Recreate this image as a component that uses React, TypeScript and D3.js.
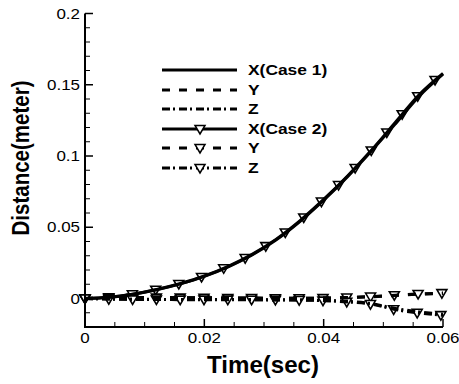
import React, { useEffect, useRef } from 'react';
import * as d3 from 'd3';

// Sample times (s)
const timeSec = [0, 0.004, 0.008, 0.012, 0.016, 0.02, 0.024, 0.028, 0.032, 0.036, 0.04, 0.044, 0.048, 0.052, 0.056, 0.06];

// Case 1 displacements (m)
const xCase1 = [0, 0.0008, 0.003, 0.0062, 0.0103, 0.0155, 0.0222, 0.0305, 0.041, 0.054, 0.069, 0.0855, 0.1035, 0.1225, 0.142, 0.1575];
const yCase1 = [0, 0.0004, 0.0006, 0.0007, 0.0006, 0.0005, 0.0004, 0.0003, 0.0002, 0.0002, 0.0003, 0.0006, 0.0012, 0.0021, 0.003, 0.0036];
const zCase1 = [0, -0.0003, -0.0005, -0.0006, -0.0007, -0.0007, -0.0007, -0.0008, -0.0009, -0.001, -0.0013, -0.002, -0.0036, -0.007, -0.0094, -0.011];

// Case 2 displacements (m)
const xCase2 = [0, 0.0008, 0.003, 0.0063, 0.0105, 0.0158, 0.0226, 0.031, 0.0415, 0.0545, 0.0695, 0.086, 0.104, 0.1235, 0.143, 0.158];
const yCase2 = [0, 0.0003, 0.0005, 0.0006, 0.0006, 0.0005, 0.0004, 0.0003, 0.0002, 0.0002, 0.0003, 0.0007, 0.0014, 0.0023, 0.0032, 0.0038];
const zCase2 = [0, -0.0004, -0.0006, -0.0007, -0.0008, -0.0008, -0.0008, -0.0009, -0.001, -0.0011, -0.0015, -0.0024, -0.004, -0.0078, -0.0102, -0.0118];

const xTicks = [0, 0.02, 0.04, 0.06];
const xTickLabels = ['0', '0.02', '0.04', '0.06'];
const yTicks = [0, 0.05, 0.1, 0.15, 0.2];
const yTickLabels = ['0', '0.05', '0.1', '0.15', '0.2'];
const legendLabels = ['X(Case 1)', 'Y', 'Z', 'X(Case 2)', 'Y', 'Z'];

const W = 459;
const H = 384;
const DASHES: Record<string, string | null> = {
  solid: null,
  dashed: '8,9',
  dashdot: '8,3,2,4',
};

export default function App() {
  const ref = useRef<SVGSVGElement>(null);

  useEffect(() => {
    const svg = d3.select(ref.current);
    svg.selectAll('*').remove();

    const x = d3.scaleLinear().domain([0, 0.06]).range([85, 443]);
    const y = d3.scaleLinear().domain([-0.02, 0.2]).range([327, 13.5]);

    const series = [
      { values: xCase1, dash: 'solid', markers: false },
      { values: yCase1, dash: 'dashed', markers: false },
      { values: zCase1, dash: 'dashdot', markers: false },
      { values: xCase2, dash: 'solid', markers: true },
      { values: yCase2, dash: 'dashed', markers: true },
      { values: zCase2, dash: 'dashdot', markers: true },
    ];

    const line = d3
      .line<number>()
      .x((_, i) => x(timeSec[i]))
      .y((d) => y(d))
      .curve(d3.curveMonotoneX);

    const tri = 'M-5,-3.5L5,-3.5L0,5Z';

    const markerLayer = svg.append('g');
    const lineLayer = svg.append('g');

    // Lines, with symbols spaced evenly along the drawn path
    series.forEach((s) => {
      const p = lineLayer
        .append('path')
        .attr('d', line(s.values) as string)
        .attr('fill', 'none')
        .attr('stroke', '#000')
        .attr('stroke-width', 3)
        .attr('stroke-dasharray', DASHES[s.dash] ?? null);
      if (s.markers) {
        const node = p.node() as SVGPathElement;
        const total = node.getTotalLength();
        const pts: { x: number; y: number }[] = [];
        for (let l = 0; l <= total + 0.5; l += 23.8) {
          const pt = node.getPointAtLength(Math.min(l, total));
          pts.push({ x: pt.x, y: pt.y });
        }
        markerLayer
          .selectAll(null)
          .data(pts)
          .enter()
          .append('path')
          .attr('d', tri)
          .attr('transform', (d) => `translate(${d.x},${d.y})`)
          .attr('fill', '#fff')
          .attr('stroke', '#000')
          .attr('stroke-width', 1.6);
      }
    });

    // Axes
    const axes = svg.append('g').attr('stroke', '#000');
    axes.append('line').attr('x1', x(0)).attr('x2', x(0)).attr('y1', y(-0.02)).attr('y2', y(0.2)).attr('stroke-width', 2);
    axes.append('line').attr('x1', x(0) - 1).attr('x2', x(0.06)).attr('y1', y(-0.02)).attr('y2', y(-0.02)).attr('stroke-width', 2);

    const yMinor = d3.range(-0.02, 0.2001, 0.01).filter((v) => !yTicks.some((t) => Math.abs(t - v) < 1e-6));
    const xMinor = d3.range(0, 0.0601, 0.005).filter((v) => !xTicks.some((t) => Math.abs(t - v) < 1e-6));

    yTicks.forEach((t) => {
      axes.append('line').attr('x1', x(0)).attr('x2', x(0) + 8).attr('y1', y(t)).attr('y2', y(t)).attr('stroke-width', 1.5);
    });
    yMinor.forEach((t) => {
      axes.append('line').attr('x1', x(0)).attr('x2', x(0) + 5).attr('y1', y(t)).attr('y2', y(t)).attr('stroke-width', 1);
    });
    xTicks.forEach((t) => {
      axes.append('line').attr('x1', x(t)).attr('x2', x(t)).attr('y1', y(-0.02)).attr('y2', y(-0.02) - 8).attr('stroke-width', 1.5);
    });
    xMinor.forEach((t) => {
      axes.append('line').attr('x1', x(t)).attr('x2', x(t)).attr('y1', y(-0.02)).attr('y2', y(-0.02) - 5).attr('stroke-width', 1);
    });

    const font = 'Liberation Sans, Arial, Helvetica, sans-serif';
    const labels = svg.append('g').attr('font-family', font).attr('fill', '#000');

    yTicks.forEach((t, i) => {
      labels
        .append('text')
        .attr('transform', `translate(80,${y(t) + 5}) scale(1.17,1)`)
        .attr('text-anchor', 'end')
        .attr('font-size', 14.5)
        .text(yTickLabels[i]);
    });
    xTicks.forEach((t, i) => {
      labels
        .append('text')
        .attr('transform', `translate(${x(t)},343) scale(1.17,1)`)
        .attr('text-anchor', 'middle')
        .attr('font-size', 14.5)
        .text(xTickLabels[i]);
    });

    labels
      .append('text')
      .attr('transform', 'translate(263,373)')
      .attr('text-anchor', 'middle')
      .attr('font-size', 24)
      .attr('font-weight', 'bold')
      .attr('textLength', 112)
      .attr('lengthAdjust', 'spacingAndGlyphs')
      .text('Time(sec)');

    labels
      .append('text')
      .attr('transform', 'translate(29,158) rotate(-90)')
      .attr('text-anchor', 'middle')
      .attr('font-size', 23)
      .attr('font-weight', 'bold')
      .attr('textLength', 155)
      .attr('lengthAdjust', 'spacingAndGlyphs')
      .text('Distance(meter)');

    // Legend
    const legend = svg.append('g');
    const rowY = [70, 90, 109, 129, 148, 168];
    series.forEach((s, i) => {
      legend
        .append('line')
        .attr('x1', 162)
        .attr('x2', 237)
        .attr('y1', rowY[i])
        .attr('y2', rowY[i])
        .attr('stroke', '#000')
        .attr('stroke-width', 3)
        .attr('stroke-dasharray', DASHES[s.dash] ?? null);
      if (s.markers) {
        legend
          .append('path')
          .attr('d', tri)
          .attr('transform', `translate(200,${rowY[i]})`)
          .attr('fill', '#fff')
          .attr('stroke', '#000')
          .attr('stroke-width', 1.5);
      }
      legend
        .append('text')
        .attr('transform', `translate(248,${rowY[i] + 5}) scale(1.2,1)`)
        .attr('font-family', font)
        .attr('font-size', 14.5)
        .attr('font-weight', 'bold')
        .text(legendLabels[i]);
    });
  }, []);

  return (
    <svg
      ref={ref}
      width={W}
      height={H}
      style={{ position: 'absolute', left: 0, top: 0, background: '#fff' }}
    />
  );
}
